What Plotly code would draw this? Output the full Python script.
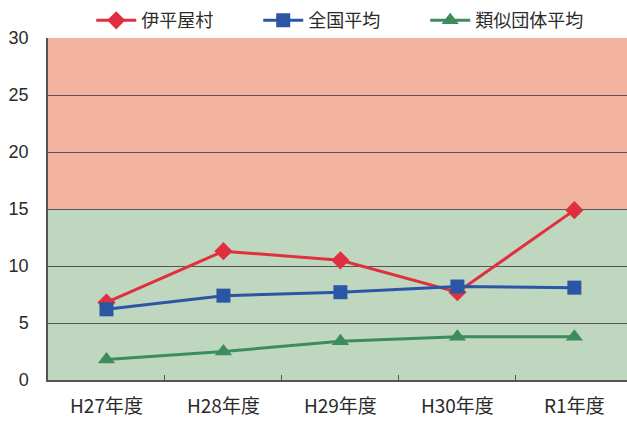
import plotly.graph_objects as go

# Fiscal years and indicator values
years = ["H27年度", "H28年度", "H29年度", "H30年度", "R1年度"]
iheya = [6.8, 11.3, 10.5, 7.7, 14.9]
national_avg = [6.2, 7.4, 7.7, 8.2, 8.1]
similar_avg = [1.8, 2.5, 3.4, 3.8, 3.8]

y_ticks = [0, 5, 10, 15, 20, 25, 30]
warning_line = 15

FONT = "Noto Sans CJK JP"

fig = go.Figure()

series = [
    ("伊平屋村", iheya, "#E0303F", "diamond", 14),
    ("全国平均", national_avg, "#2B56A6", "square", 14),
    ("類似団体平均", similar_avg, "#3C8C5C", "triangle-up", 15),
]
for name, vals, color, symbol, size in series:
    fig.add_trace(go.Scatter(
        x=years, y=vals, name=name, mode="lines+markers",
        line=dict(color=color, width=3),
        marker=dict(symbol=symbol, size=size, color=color),
    ))

# Shaded bands: warning zone above the line, normal zone below
fig.add_shape(type="rect", xref="paper", yref="y", x0=0, x1=1,
              y0=warning_line, y1=30, fillcolor="#F2B3A1",
              line_width=0, layer="below")
fig.add_shape(type="rect", xref="paper", yref="y", x0=0, x1=1,
              y0=0, y1=warning_line, fillcolor="#BFD7BE",
              line_width=0, layer="below")

fig.update_layout(
    width=627, height=421,
    margin=dict(l=48, r=0, t=38, b=41, autoexpand=False),
    paper_bgcolor="white",
    plot_bgcolor="white",
    font=dict(family=FONT, size=18, color="#2a2a2a"),
    legend=dict(orientation="h", xref="container", yref="container",
                x=0.545, xanchor="center", y=0.995, yanchor="top",
                font=dict(family=FONT, size=18, color="#2a2a2a"),
                itemwidth=40, entrywidth=112, entrywidthmode="pixels",
                tracegroupgap=0, bgcolor="rgba(0,0,0,0)"),
    showlegend=True,
)

fig.update_xaxes(
    range=[-0.5, 4.45],
    showgrid=False,
    showline=True, linecolor="#555555", linewidth=1.5,
    ticks="inside", tickson="boundaries", ticklen=5, tickcolor="#555555",
    ticklabelstandoff=8,
    tickfont=dict(size=19, family=FONT, color="#2a2a2a"),
)
fig.update_yaxes(
    range=[0, 30], tickvals=y_ticks,
    showgrid=True, gridcolor="#555555", gridwidth=1,
    showline=True, linecolor="#555555", linewidth=1.5,
    zeroline=False,
    tickfont=dict(size=18, family="Liberation Sans", color="#2a2a2a"),
    ticks="", ticklabelstandoff=14,
)

fig.write_html("out.html")
